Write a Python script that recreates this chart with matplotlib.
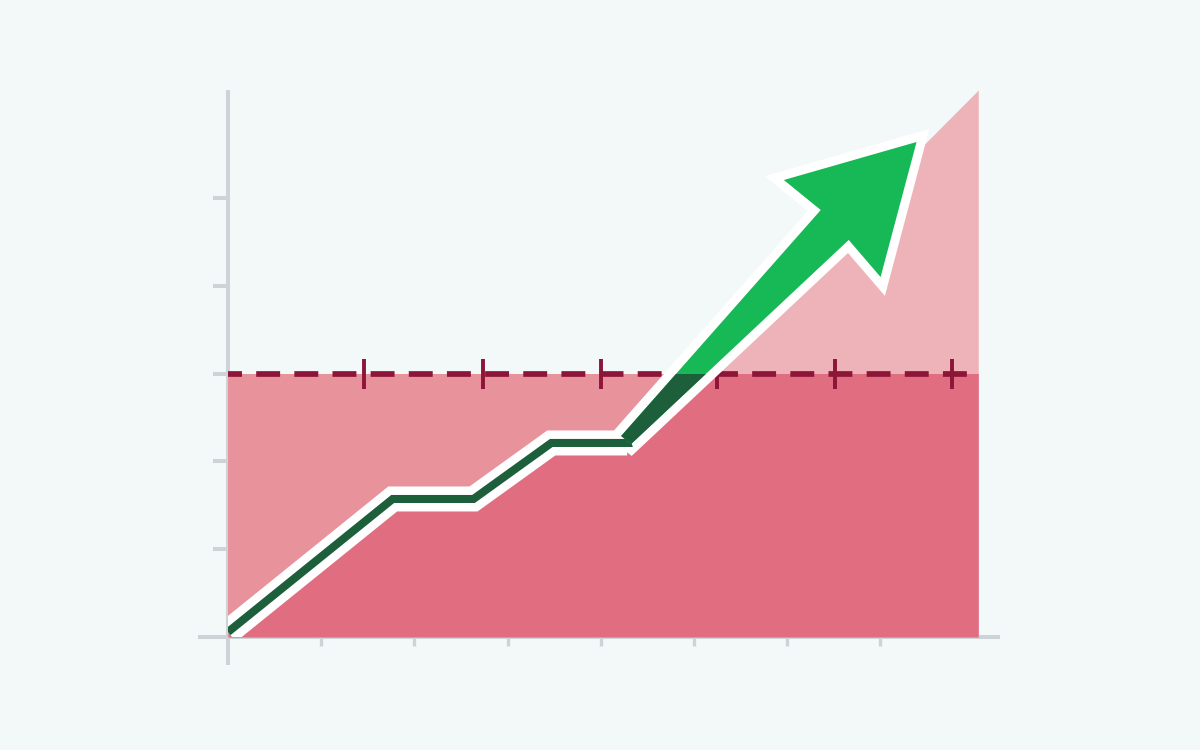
import matplotlib
matplotlib.use("Agg")
import matplotlib.pyplot as plt
from matplotlib.patches import Polygon, Rectangle
import numpy as np

# ---- data ----
line_x = [0.0, 1.767, 2.634, 3.469, 4.283]
line_y = [0.057, 1.572, 1.572, 2.210, 2.210]
area_x = [0.0, 1.767, 2.634, 3.469, 4.283, 8.05]
area_y = [0.057, 1.572, 1.572, 2.210, 2.210, 6.23]
threshold = 3.0
threshold_marks = [1.459, 2.736, 4.002, 5.247, 6.513, 7.768]
arrow_x = [4.326, 6.660, 7.002, 7.388, 5.964, 6.360, 4.218]
arrow_y = [2.198, 4.522, 4.100, 5.638, 5.205, 4.863, 2.289]
xticks = [1, 2, 3, 4, 5, 6, 7]
yticks = [1, 2, 3, 4, 5]
x_end = 8.05
y_top = 6.23

# ---- colours ----
BG = "#f3f8f8"
AXIS = "#cdd3d6"
RECT = "#e8929b"
OVER = "#e06e80"
LIGHT = "#eeb3b8"
DASH = "#8c1538"
DKGREEN = "#1d5f3b"
GREEN = "#16b955"

fig = plt.figure(figsize=(12, 7.5), dpi=100, facecolor=BG)
ax = fig.add_axes([0, 0, 1, 1], facecolor=BG)
sx, sy = 93.2, 87.8
ax.set_xlim(-228 / sx, (1200 - 228) / sx)
ax.set_ylim(-(750 - 637) / sy, 637 / sy)

# spines as axes
for s in ["top", "right"]:
    ax.spines[s].set_visible(False)
ax.spines["left"].set_position(("data", 0))
ax.spines["bottom"].set_position(("data", 0))
ax.spines["left"].set_bounds(-0.319, y_top)
ax.spines["bottom"].set_bounds(-0.322, 8.28)
for s in ["left", "bottom"]:
    ax.spines[s].set_color(AXIS)
    ax.spines[s].set_linewidth(2.9)
    ax.spines[s].set_zorder(0.5)
    ax.spines[s].set_capstyle("butt")
ax.set_xticks(xticks)
ax.set_yticks(yticks)
ax.tick_params(axis="y", direction="out", length=10.5, width=2.9, color=AXIS, labelleft=False)
ax.tick_params(axis="x", direction="out", length=6.5, width=2.4, color=AXIS, labelbottom=False)
ax.set_axisbelow(True)

# fills
rect_clip = Rectangle((0, 0), x_end, threshold, transform=ax.transData)
ax.fill_between([0, x_end], 0, threshold, color=RECT, lw=0, zorder=1)
ax.fill_between(area_x, 0, area_y, color=LIGHT, lw=0, zorder=1.1)
over = ax.fill_between(area_x, 0, area_y, color=OVER, lw=0, zorder=1.2)
over.set_clip_path(rect_clip)

# threshold dashed line + marks
ax.hlines(threshold, 0, x_end, colors=DASH, lw=4.1,
          linestyles=[(1.75, (4.2, 2.5))], zorder=2)
ax.vlines(threshold_marks, threshold - 0.171, threshold + 0.171, colors=DASH, lw=2.8, zorder=2)

# arrow outline (white)
plot_clip = Rectangle((0, 0), x_end, 7, transform=ax.transData)
pts = np.column_stack([arrow_x, arrow_y])
outline = Polygon(pts, closed=True, facecolor="white", edgecolor="white",
                  lw=13, joinstyle="miter", zorder=3)
ax.add_patch(outline)

# line white casing and green
wl, = ax.plot(line_x, line_y, color="white", lw=18, solid_joinstyle="miter",
              solid_capstyle="butt", zorder=3.1)
wl.set_clip_path(plot_clip)
gl, = ax.plot(line_x + [arrow_x[0] * 0.5 + arrow_x[-1] * 0.5],
              line_y + [arrow_y[0] * 0.5 + arrow_y[-1] * 0.5],
              color=DKGREEN, lw=5.8, solid_joinstyle="miter",
              solid_capstyle="butt", zorder=4)
gl.set_clip_path(Rectangle((0, 0), x_end, 7, transform=ax.transData))

# arrow fill
ax.add_patch(Polygon(pts, closed=True, facecolor=GREEN, edgecolor="none", zorder=4.1))
dark = Polygon(pts, closed=True, facecolor=DKGREEN, edgecolor="none", zorder=4.2)
ax.add_patch(dark)
dark.set_clip_path(Rectangle((0, 0), x_end, threshold, transform=ax.transData))

fig.savefig("out.png", dpi=100, facecolor=BG)
